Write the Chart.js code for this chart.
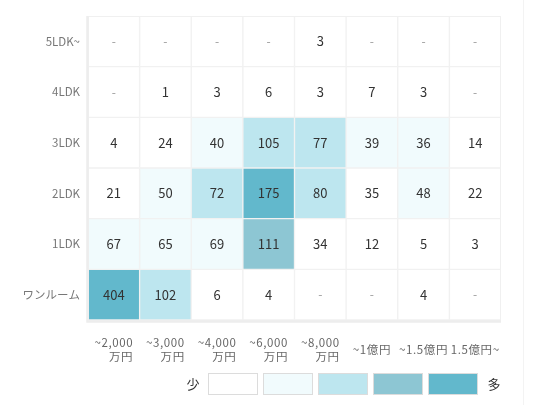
<!DOCTYPE html>
<html>
<head>
<meta charset="utf-8">
<script src="https://cdn.jsdelivr.net/npm/chart.js@4"></script>
<style>
  html, body { margin: 0; padding: 0; background: #fff; }
  #wrap { width: 550px; height: 405px; position: relative; }
</style>
</head>
<body>
<div id="wrap"><canvas id="heatmap"></canvas></div>
<script>
// price bands (x) and room types (y, top to bottom)
const priceLabels = [['~2,000', '万円'], ['~3,000', '万円'], ['~4,000', '万円'], ['~6,000', '万円'],
                     ['~8,000', '万円'], ['~1億円'], ['~1.5億円'], ['1.5億円~']];
const roomLabels = ['5LDK~', '4LDK', '3LDK', '2LDK', '1LDK', 'ワンルーム'];

// null = "-"
const count5LDK    = [null, null, null, null, 3, null, null, null];
const count4LDK    = [null, 1, 3, 6, 3, 7, 3, null];
const count3LDK    = [4, 24, 40, 105, 77, 39, 36, 14];
const count2LDK    = [21, 50, 72, 175, 80, 35, 48, 22];
const count1LDK    = [67, 65, 69, 111, 34, 12, 5, 3];
const countOneRoom = [404, 102, 6, 4, null, null, 4, null];

const levelColors = ['#ffffff', '#f1fbfd', '#bde6ef', '#8dc6d3', '#62b8cc'];
const levelLimits = [36, 70, 110, 150];

const FONT = "'Noto Sans CJK JP', 'Noto Sans', sans-serif";

function levelOf(v) {
    let l = 0;
    levelLimits.forEach(t => { if (v != null && v >= t) l++; });
    return l;
}

const rows = [count5LDK, count4LDK, count3LDK, count2LDK, count1LDK, countOneRoom];

// stacked from the bottom, so the last row goes first
const datasets = rows.map((vals, r) => ({
    label: roomLabels[r],
    counts: vals,
    data: vals.map(() => 1),
    backgroundColor: vals.map(v => levelColors[levelOf(v)]),
    borderColor: '#f1f1f1',
    borderWidth: 1,
    borderSkipped: false,
    barPercentage: 1,
    categoryPercentage: 1
})).reverse();

const cellText = {
    id: 'cellText',
    afterDatasetsDraw(chart) {
        const ctx = chart.ctx;
        const area = chart.chartArea;
        ctx.save();

        // frame
        ctx.strokeStyle = '#f0f0f0';
        ctx.lineWidth = 1;
        ctx.strokeRect(area.left + 0.5, area.top + 0.5, area.right - area.left - 1, area.bottom - area.top);
        ctx.strokeStyle = '#ededed';
        ctx.lineWidth = 2.5;
        ctx.beginPath();
        ctx.moveTo(area.left - 0.5, area.top);
        ctx.lineTo(area.left - 0.5, area.bottom + 1.5);
        ctx.lineTo(area.right, area.bottom + 1.5);
        ctx.stroke();

        ctx.textAlign = 'center';
        ctx.textBaseline = 'middle';
        chart.data.datasets.forEach((ds, i) => {
            chart.getDatasetMeta(i).data.forEach((bar, j) => {
                const v = ds.counts[j];
                const y = (bar.y + bar.base) / 2;
                if (v == null) {
                    ctx.fillStyle = '#999';
                    ctx.font = '12px ' + FONT;
                    ctx.fillText('-', bar.x, y);
                } else {
                    ctx.fillStyle = '#333';
                    ctx.font = '13px ' + FONT;
                    ctx.fillText(String(v), bar.x, y);
                }
            });
        });
        ctx.restore();
    },
    afterDraw(chart) {
        const ctx = chart.ctx;
        const xs = chart.scales.x;
        ctx.save();

        // price labels: first line centred, second line right-aligned under it
        ctx.fillStyle = '#666';
        ctx.font = '11.5px ' + FONT;
        ctx.letterSpacing = '0.6px';
        ctx.textBaseline = 'middle';
        priceLabels.forEach((lab, i) => {
            const px = xs.getPixelForValue(i);
            if (lab.length > 1) {
                const w = ctx.measureText(lab[0]).width;
                ctx.textAlign = 'center';
                ctx.fillText(lab[0], px, 343);
                ctx.textAlign = 'right';
                ctx.fillText(lab[1], px + w / 2, 357);
            } else {
                ctx.textAlign = 'center';
                ctx.fillText(lab[0], px, 350);
            }
        });
        ctx.letterSpacing = '0px';

        // colour legend
        const boxX = 208, boxY = 373, boxW = 50, boxH = 22, gap = 5;
        levelColors.forEach((c, k) => {
            const x = boxX + k * (boxW + gap);
            ctx.fillStyle = c;
            ctx.fillRect(x, boxY, boxW, boxH);
            ctx.strokeStyle = '#dcdcdc';
            ctx.lineWidth = 1;
            ctx.strokeRect(x + 0.5, boxY + 0.5, boxW - 1, boxH - 1);
        });
        ctx.fillStyle = '#333';
        ctx.font = '13px ' + FONT;
        ctx.textAlign = 'center';
        ctx.fillText('少', 193, boxY + boxH / 2);
        ctx.fillText('多', 494, boxY + boxH / 2);

        // faint page rule on the right
        ctx.strokeStyle = '#f3f3f3';
        ctx.lineWidth = 1;
        ctx.beginPath();
        ctx.moveTo(523.5, 0);
        ctx.lineTo(523.5, 405);
        ctx.stroke();
        ctx.restore();
    }
};

new Chart(document.getElementById('heatmap'), {
    type: 'bar',
    data: {
        labels: priceLabels,
        datasets: datasets
    },
    options: {
        responsive: true,
        maintainAspectRatio: false,
        animation: false,
        layout: {
            padding: { top: 16, right: 49, bottom: 85, left: 0 }
        },
        scales: {
            x: { stacked: true, display: false },
            y: { stacked: true, display: false, min: 0, max: 6 },
            rows: {
                type: 'category',
                labels: roomLabels,
                position: 'left',
                offset: true,
                grid: { display: false, drawTicks: false },
                border: { display: false },
                ticks: { color: '#777', font: { size: 11.5, family: FONT }, padding: 8 },
                afterFit(scale) { scale.width = 88; }
            }
        },
        plugins: {
            legend: { display: false },
            tooltip: { enabled: false }
        }
    },
    plugins: [cellText]
});
</script>
</body>
</html>
